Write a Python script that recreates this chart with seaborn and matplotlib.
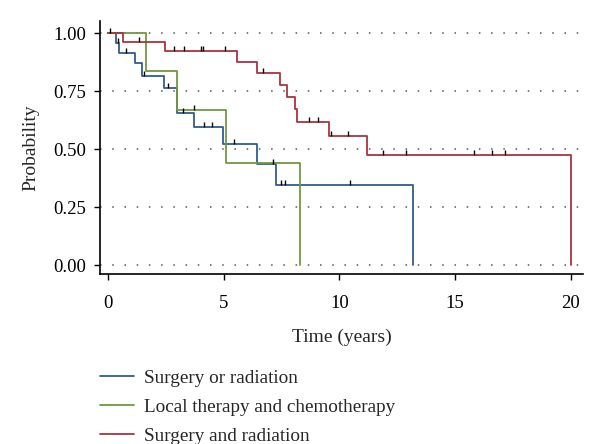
import numpy as np
import pandas as pd
import matplotlib
matplotlib.use("Agg")
import matplotlib.pyplot as plt
import seaborn as sns

# Kaplan-Meier step curves (time in years, survival probability)
groups = ["Surgery or radiation", "Local therapy and chemotherapy", "Surgery and radiation"]

times_sr = [0, 0.36, 0.48, 1.16, 1.48, 2.42, 3.0, 3.73, 4.96, 6.45, 7.28, 13.19]
surv_sr = [1.0, 0.957, 0.914, 0.871, 0.817, 0.766, 0.658, 0.595, 0.522, 0.435, 0.346, 0.0]
cens_sr = [0.45, 0.8, 1.55, 2.58, 3.23, 4.17, 4.52, 5.43, 7.15, 7.5, 7.65, 10.48]

times_lc = [0, 1.64, 3.0, 5.12, 8.29]
surv_lc = [1.0, 0.835, 0.667, 0.442, 0.0]
cens_lc = [3.7]

times_sa = [0, 0.65, 2.47, 5.58, 6.45, 7.45, 7.72, 8.07, 8.19, 9.57, 11.2, 20.0]
surv_sa = [1.0, 0.964, 0.925, 0.878, 0.830, 0.777, 0.725, 0.672, 0.619, 0.557, 0.475, 0.0]
cens_sa = [0.1, 1.33, 2.87, 3.29, 4.03, 4.1, 5.07, 6.71, 8.71, 9.1, 9.64, 10.38,
           11.88, 12.86, 15.8, 16.6, 17.15]

yticks = [0.0, 0.25, 0.5, 0.75, 1.0]
xticks = [0, 5, 10, 15, 20]

colors = {"Surgery or radiation": "#2f5d8c",
          "Local therapy and chemotherapy": "#6f9a3f",
          "Surgery and radiation": "#a8343f"}

curves = pd.concat([
    pd.DataFrame({"time": times_sr, "surv": surv_sr, "group": groups[0]}),
    pd.DataFrame({"time": times_lc, "surv": surv_lc, "group": groups[1]}),
    pd.DataFrame({"time": times_sa, "surv": surv_sa, "group": groups[2]}),
])


def surv_at(t, times, surv):
    idx = np.searchsorted(times, t, side="right") - 1
    return surv[idx]


cens = pd.concat([
    pd.DataFrame({"time": cens_sr, "surv": [surv_at(t, times_sr, surv_sr) for t in cens_sr]}),
    pd.DataFrame({"time": cens_lc, "surv": [surv_at(t, times_lc, surv_lc) for t in cens_lc]}),
    pd.DataFrame({"time": cens_sa, "surv": [surv_at(t, times_sa, surv_sa) for t in cens_sa]}),
])

sns.set_theme(style="ticks")
plt.rcParams["font.family"] = ["Liberation Serif", "DejaVu Serif"]

fig = plt.figure(figsize=(6, 4.44), dpi=100)
ax = fig.add_axes([0.1667, 0.383, 0.805, 0.570])

ax.grid(axis="y", linestyle=(0, (1, 7)), linewidth=1.1, color="#555555")
ax.set_axisbelow(True)

sns.lineplot(data=curves, x="time", y="surv", hue="group", palette=colors,
             estimator=None, drawstyle="steps-post", linewidth=1.3, ax=ax,
             legend=False, sort=False)
sns.scatterplot(data=cens, x="time", y="surv", marker=[(0, 0), (0, 1)], s=45,
                color="black", edgecolor="black", linewidth=1.0, ax=ax,
                legend=False, zorder=5)

ax.set_xlim(-0.34, 20.53)
ax.set_ylim(-0.037, 1.053)
ax.set_xticks(xticks)
ax.set_yticks(yticks)
ax.set_yticklabels([f"{v:.2f}" for v in yticks])
ax.tick_params(direction="out", length=4, width=1, labelsize=13.5, colors="black")
ax.tick_params(axis="x", pad=11)
ax.tick_params(axis="y", pad=6)
ax.set_xlabel("Time (years)", fontsize=14, labelpad=12.5)
ax.set_ylabel("Probability", fontsize=14, labelpad=10)
for s in ["left", "bottom"]:
    ax.spines[s].set_linewidth(1.2)
    ax.spines[s].set_color("black")
sns.despine(ax=ax)

handles = [plt.Line2D([], [], color=colors[g], linewidth=1.3) for g in groups]
fig.legend(handles, groups, loc="upper left", bbox_to_anchor=(0.1667, 0.168),
           frameon=False, fontsize=13.8, handlelength=1.75, handletextpad=0.55,
           labelspacing=0.6, borderaxespad=0, borderpad=0)

fig.savefig("out.png", dpi=100)
